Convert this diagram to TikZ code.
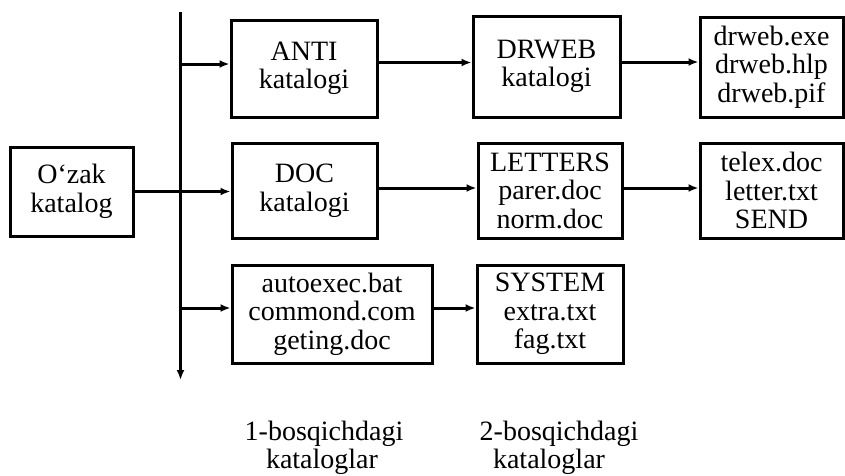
\documentclass[tikz,border=0pt]{standalone}
\usepackage{fontspec}
\setmainfont{Liberation Serif}
\usetikzlibrary{arrows.meta}
\tikzset{
  box/.style={draw, line width=3pt, inner sep=0pt, align=center,
    font=\fontsize{28}{28.5}\selectfont},
  lbl/.style={inner sep=0pt, anchor=base, font=\fontsize{28}{28}\selectfont},
  conn/.style={line width=3pt, -{Latex[length=10pt,width=8pt]}},
}
\begin{document}
\begin{tikzpicture}[x=1pt,y=-1pt]
\useasboundingbox (0,0) rectangle (845,475);
% nodes
\node[box, minimum width=123pt, minimum height=89pt] (oz) at (71.5,191.5) {O‘zak\\katalog};
\node[box, minimum width=146pt, minimum height=97pt] (anti) at (304,68.5) {ANTI\\katalogi};
\node[box, minimum width=145pt, minimum height=95pt] (doc) at (304.5,190.5) {DOC\\katalogi};
\node[box, minimum width=200pt, minimum height=98pt] (auto) at (332,314) {autoexec.bat\\commond.com\\geting.doc};
\node[box, minimum width=147pt, minimum height=101pt] (drweb) at (546.5,66.5) {DRWEB\\katalogi};
\node[box, minimum width=144pt, minimum height=95pt] (letters) at (550,190.5) {LETTERS\\parer.doc\\norm.doc};
\node[box, minimum width=146pt, minimum height=98pt] (system) at (550,314) {SYSTEM\\extra.txt\\fag.txt};
\node[box, minimum width=143pt, minimum height=100pt] (files1) at (771.5,67) {drweb.exe\\drweb.hlp\\drweb.pif};
\node[box, minimum width=143pt, minimum height=95pt] (files2) at (771.5,190.5) {telex.doc\\letter.txt\\SEND};
% labels
\node[lbl] (l1a) at (324,440) {1-bosqichdagi};
\node[lbl] (l1b) at (322,468) {kataloglar};
\node[lbl] (l2a) at (559,440) {2-bosqichdagi};
\node[lbl] (l2b) at (549,468) {kataloglar};
% bus
\coordinate (bartop) at (180.5,12);
\coordinate (barbot) at (180.5,380);
\draw[conn] (bartop) -- (barbot);
% connectors
\draw[conn] ([yshift=4.5pt]anti.west -| bartop) -- ([yshift=4.5pt]anti.west);
\draw[conn] (oz.east) -- (oz.east -| doc.west);
\draw[conn] ([yshift=6pt]auto.west -| bartop) -- ([yshift=6pt]auto.west);
\draw[conn] ([yshift=6pt]anti.east) -- ([yshift=6pt]anti.east -| drweb.west);
\draw[conn] ([yshift=4.5pt]drweb.east) -- ([yshift=4.5pt]drweb.east -| files1.west);
\draw[conn] ([yshift=2.5pt]doc.east) -- ([yshift=2.5pt]doc.east -| letters.west);
\draw[conn] ([yshift=2.5pt]letters.east) -- ([yshift=2.5pt]letters.east -| files2.west);
\draw[conn] ([yshift=6pt]auto.east) -- ([yshift=6pt]auto.east -| system.west);
\end{tikzpicture}
\end{document}
